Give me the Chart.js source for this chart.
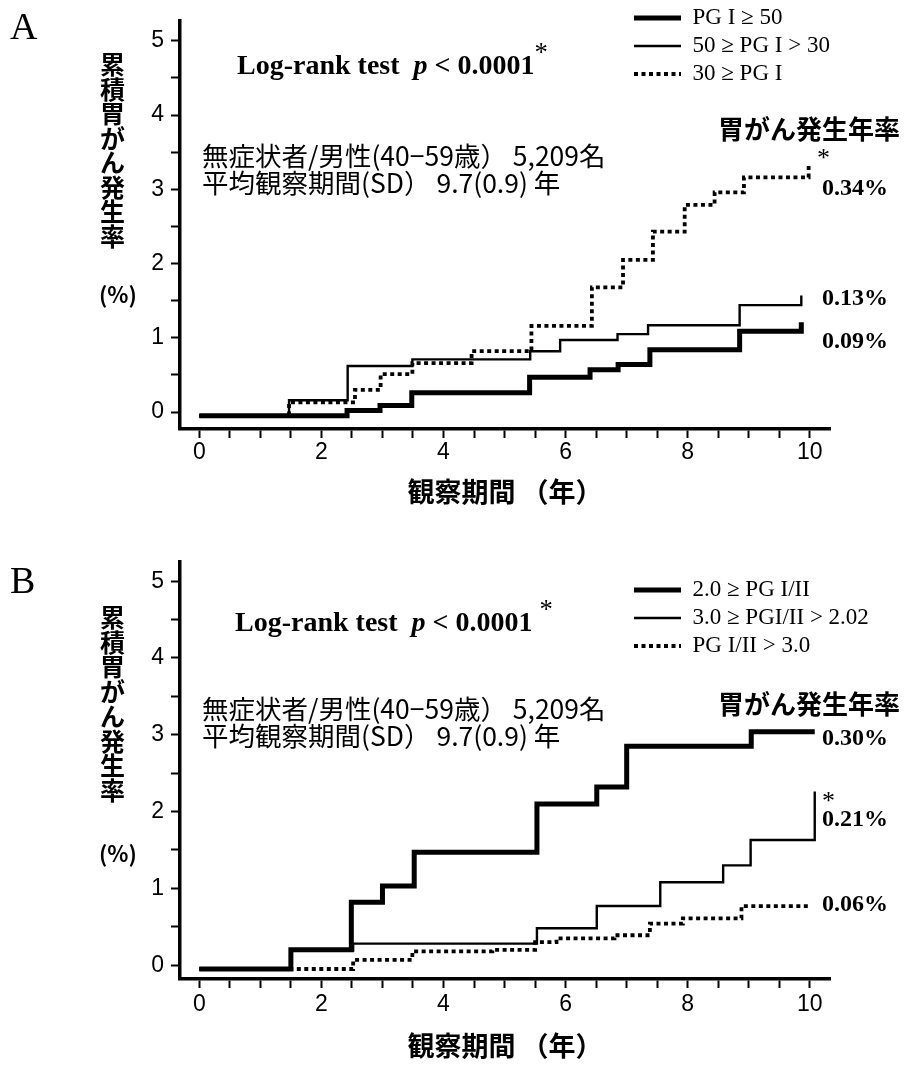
<!DOCTYPE html>
<html>
<head>
<meta charset="utf-8">
<script src="https://cdn.jsdelivr.net/npm/chart.js@4.4.1/dist/chart.umd.min.js"></script>
<style>
html,body{margin:0;padding:0;background:#fff;}
#wrap{position:relative;width:907px;height:1069px;overflow:hidden;background:#fff;}
canvas{position:absolute;left:0;}
.t{position:absolute;white-space:nowrap;color:#000;line-height:1;}
.serif{font-family:'Liberation Serif','Times New Roman',serif;}
.jp{font-family:'Noto Sans CJK JP','Noto Sans CJK SC',sans-serif;}
.b{font-weight:bold;}
.vt{position:absolute;width:1em;text-align:center;word-break:break-all;font-family:'Noto Sans CJK JP',sans-serif;font-weight:bold;color:#000;}
.sup{position:relative;top:-0.5em;font-size:0.95em;font-weight:normal;}
</style>
</head>
<body>
<div id="wrap">
<canvas id="cA" width="907" height="540" style="top:0px"></canvas>
<canvas id="cB" width="907" height="529" style="top:540px"></canvas>

<!-- Panel A annotations -->
<div class="t serif" style="left:10px;top:7px;font-size:38px;">A</div>
<div class="vt" style="left:100px;top:51px;font-size:25px;line-height:24.5px;">累積胃がん発生率</div>
<div class="t jp b" style="left:99px;top:282px;font-size:22px;">(%)</div>
<div class="t serif b" style="left:237px;top:51px;font-size:28px;">Log-rank test&nbsp; <i>p</i> &lt; 0.0001<span class="sup">*</span></div>
<div class="t jp" style="left:202px;top:142px;font-size:26.5px;">無症状者/男性(40−59歳） 5,209名</div>
<div class="t jp" style="left:202px;top:169px;font-size:26.5px;">平均観察期間(SD） 9.7(0.9) 年</div>
<div class="t jp b" style="left:718px;top:115px;font-size:26px;">胃がん発生年率</div>
<div class="t serif" style="left:817px;top:145px;font-size:26px;">*</div>
<div class="t serif b" style="left:822px;top:175px;font-size:24px;">0.34%</div>
<div class="t serif b" style="left:822px;top:285px;font-size:24px;">0.13%</div>
<div class="t serif b" style="left:822px;top:328px;font-size:24px;">0.09%</div>

<!-- Panel B annotations -->
<div class="t serif" style="left:10px;top:561px;font-size:38px;">B</div>
<div class="vt" style="left:100px;top:604px;font-size:25px;line-height:24.7px;">累積胃がん発生率</div>
<div class="t jp b" style="left:99px;top:841px;font-size:22px;">(%)</div>
<div class="t serif b" style="left:235px;top:608px;font-size:28px;">Log-rank test&nbsp; <i>p</i> &lt; 0.0001 <span class="sup">*</span></div>
<div class="t jp" style="left:202px;top:695px;font-size:26.5px;">無症状者/男性(40−59歳） 5,209名</div>
<div class="t jp" style="left:202px;top:722px;font-size:26.5px;">平均観察期間(SD） 9.7(0.9) 年</div>
<div class="t jp b" style="left:718px;top:690px;font-size:26px;">胃がん発生年率</div>
<div class="t serif b" style="left:822px;top:725px;font-size:24px;">0.30%</div>
<div class="t serif" style="left:822px;top:788px;font-size:26px;">*</div>
<div class="t serif b" style="left:822px;top:806px;font-size:24px;">0.21%</div>
<div class="t serif b" style="left:822px;top:891px;font-size:24px;">0.06%</div>
</div>

<script>
// ---------- tick definitions ----------
const xTickValues = [0,0.5,1,1.5,2,2.5,3,3.5,4,4.5,5,5.5,6,6.5,7,7.5,8,8.5,9,9.5,10];
const xTickLabels = ['0','','','','2','','','','4','','','','6','','','','8','','','','10'];
const yTickValues = [0,0.5,1,1.5,2,2.5,3,3.5,4,4.5,5];
const yTickLabels = ['0','','1','','2','','3','','4','','5'];
const xTitle = '観察期間 （年）';

// ---------- Panel A : PG I ----------
const aSeriesLabels = ['PG I ≥ 50', '50 ≥ PG I > 30', '30 ≥ PG I'];
const aHighT = [0, 2.42, 2.96, 3.48, 5.41, 6.40, 6.86, 7.38, 8.85, 9.86];
const aHighV = [-0.05, 0.02, 0.09, 0.26, 0.47, 0.57, 0.64, 0.84, 1.09, 1.21];
const aMidT  = [0, 1.47, 2.43, 3.49, 5.42, 5.91, 6.85, 7.35, 8.85, 9.86];
const aMidV  = [-0.05, 0.16, 0.62, 0.71, 0.82, 0.97, 1.05, 1.17, 1.44, 1.57];
const aLowT  = [0, 1.47, 2.55, 2.97, 3.49, 4.46, 5.44, 6.43, 6.94, 7.43, 7.95, 8.44, 8.92, 9.98];
const aLowV  = [-0.05, 0.13, 0.30, 0.51, 0.66, 0.82, 1.16, 1.68, 2.05, 2.43, 2.79, 2.96, 3.16, 3.33];

// ---------- Panel B : PG I/II ----------
const bSeriesLabels = ['2.0 ≥ PG I/II', '3.0 ≥ PGI/II > 2.02', 'PG I/II > 3.0'];
const bLowRatioT = [0, 1.50, 2.49, 3.00, 3.52, 5.53, 6.51, 7.00, 9.04, 10.08];
const bLowRatioV = [-0.05, 0.20, 0.82, 1.03, 1.47, 2.10, 2.32, 2.85, 3.04, 3.04];
const bMidRatioT = [0, 1.50, 2.52, 5.53, 6.51, 7.55, 8.58, 9.03, 10.08];
const bMidRatioV = [-0.05, 0.19, 0.28, 0.48, 0.77, 1.08, 1.30, 1.63, 2.26];
const bHighRatioT = [0, 2.52, 3.49, 4.80, 5.50, 5.85, 6.80, 7.38, 7.92, 8.88, 9.98];
const bHighRatioV = [-0.05, 0.07, 0.18, 0.20, 0.30, 0.35, 0.39, 0.54, 0.61, 0.77, 0.77];

// ---------- styles ----------
const styles = [
  {borderWidth: 5, borderDash: []},
  {borderWidth: 2.4, borderDash: []},
  {borderWidth: 3.8, borderDash: [4, 3.5]}
];
const pts = (t, v) => t.map((x, i) => ({x: x, y: v[i]}));

function makeDatasets(labels, series) {
  return series.map((s, i) => ({
    label: labels[i],
    data: pts(s[0], s[1]),
    borderColor: '#000',
    backgroundColor: '#000',
    borderWidth: styles[i].borderWidth,
    borderDash: styles[i].borderDash,
    borderCapStyle: 'butt',
    borderJoinStyle: 'miter',
    stepped: 'before',
    fill: false,
    pointRadius: 0,
    pointHoverRadius: 0
  }));
}

const legendFontSize = 23;
const legendPadding = 5;

function placeLegend(left, firstRowCenter) {
  return {
    id: 'placeLegend',
    afterLayout(chart) {
      const lg = chart.legend;
      if (!lg) return;
      const w = lg.width, h = lg.height;
      const top = firstRowCenter - legendPadding - legendFontSize / 2;
      lg.left = left; lg.right = left + w;
      lg.top = top; lg.bottom = top + h;
    }
  };
}

function makeChart(canvasId, datasets, geo) {
  const ctx = document.getElementById(canvasId);
  return new Chart(ctx, {
    type: 'line',
    data: {datasets: datasets},
    options: {
      responsive: false,
      animation: false,
      devicePixelRatio: 1,
      events: [],
      layout: {padding: {left: geo.padLeft, right: geo.padRight, top: geo.padTop, bottom: geo.padBottom}},
      plugins: {
        tooltip: {enabled: false},
        legend: {
          position: 'chartArea',
          align: 'start',
          labels: {
            usePointStyle: true,
            pointStyle: 'line',
            pointStyleWidth: 47,
            padding: legendPadding,
            color: '#000',
            font: {family: "'Liberation Serif', 'Times New Roman', serif", size: legendFontSize},
            generateLabels: (chart) => Chart.defaults.plugins.legend.labels.generateLabels(chart).map((item) => {
              const ds = chart.data.datasets[item.datasetIndex];
              return Object.assign({}, item, {
                lineWidth: ds.borderWidth,
                lineDash: ds.borderDash || [],
                lineCap: 'butt',
                strokeStyle: '#000',
                fillStyle: '#000',
                pointStyle: 'line'
              });
            })
          }
        }
      },
      scales: {
        x: {
          type: 'linear',
          bounds: 'data',
          min: geo.xMin, max: geo.xMax,
          afterFit: (s) => { s.height = geo.xAxisHeight; },
          afterBuildTicks: (s) => { s.ticks = xTickValues.map((v) => ({value: v})); },
          ticks: {
            autoSkip: false, maxRotation: 0, minRotation: 0,
            padding: geo.xTickPad, color: '#000',
            font: {family: "'Liberation Sans', Arial, sans-serif", size: 23},
            callback: (value, index) => xTickLabels[index]
          },
          grid: {display: true, drawOnChartArea: false, drawTicks: true, tickLength: 9, tickWidth: 2, tickColor: '#000'},
          border: {display: true, color: '#000', width: 3.5},
          title: {
            display: true, text: xTitle, color: '#000',
            font: {family: "'Noto Sans CJK JP', sans-serif", size: 27, weight: 'bold'},
            padding: {top: 0, bottom: 0}
          }
        },
        y: {
          type: 'linear',
          bounds: 'data',
          min: geo.yMin, max: geo.yMax,
          afterFit: (s) => { s.width = 50; },
          afterBuildTicks: (s) => { s.ticks = yTickValues.map((v) => ({value: v})); },
          ticks: {
            autoSkip: false, padding: 7, color: '#000',
            font: {family: "'Liberation Sans', Arial, sans-serif", size: 23},
            callback: (value, index) => yTickLabels[index]
          },
          grid: {display: true, drawOnChartArea: false, drawTicks: true, tickLength: 9, tickWidth: 2, tickColor: '#000'},
          border: {display: true, color: '#000', width: 3.5},
          title: {display: false}
        }
      }
    },
    plugins: [placeLegend(geo.legendLeft, geo.legendRow0)]
  });
}

makeChart('cA', makeDatasets(aSeriesLabels, [[aHighT, aHighV], [aMidT, aMidV], [aLowT, aLowV]]), {
  padLeft: 130, padRight: 77, padTop: 8, padBottom: 32,
  xAxisHeight: 79, xTickPad: 1,
  xMin: -0.316, xMax: 10.33,
  yMin: -0.228, yMax: 5.27,
  legendLeft: 629, legendRow0: 18
});

makeChart('cB', makeDatasets(bSeriesLabels, [[bLowRatioT, bLowRatioV], [bMidRatioT, bMidRatioV], [bHighRatioT, bHighRatioV]]), {
  padLeft: 130, padRight: 77, padTop: 22, padBottom: 7,
  xAxisHeight: 83, xTickPad: 3,
  xMin: -0.316, xMax: 10.33,
  yMin: -0.18, yMax: 5.25,
  legendLeft: 629, legendRow0: 50
});
</script>
</body>
</html>
